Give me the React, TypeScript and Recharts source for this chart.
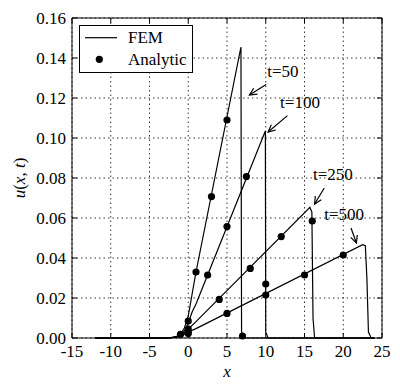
import React from 'react';
import {
  ComposedChart,
  Line,
  Scatter,
  XAxis,
  YAxis,
  CartesianGrid,
  Legend,
  ReferenceLine,
  ReferenceDot,
} from 'recharts';

type Pt = { x: number; y: number };

const FONT = "'Liberation Serif', serif";

const xTicks = [-15, -10, -5, 0, 5, 10, 15, 20, 25];
const yTicks = [0, 0.02, 0.04, 0.06, 0.08, 0.1, 0.12, 0.14, 0.16];
const X_MIN = -15;
const X_MAX = 25;
const Y_MIN = 0;
const Y_MAX = 0.16;

// FEM solutions
const fem50: Pt[] = [
  { x: -12, y: 0 }, { x: -2.5, y: 0 }, { x: -1.5, y: 0.0008 }, { x: -1, y: 0.002 },
  { x: -0.5, y: 0.005 }, { x: 0, y: 0.011 }, { x: 0.5, y: 0.022 }, { x: 1, y: 0.033 },
  { x: 6.8, y: 0.1455 }, { x: 6.88, y: 0.003 }, { x: 7.2, y: 0 }, { x: 24, y: 0 },
];
const fem100: Pt[] = [
  { x: -12, y: 0 }, { x: -2.5, y: 0 }, { x: -1.5, y: 0.0006 }, { x: -1, y: 0.0014 },
  { x: -0.5, y: 0.0035 }, { x: 0, y: 0.0075 }, { x: 0.5, y: 0.013 }, { x: 1, y: 0.017 },
  { x: 9.95, y: 0.1035 }, { x: 10.0, y: 0.003 }, { x: 10.3, y: 0 }, { x: 24, y: 0 },
];
const fem250: Pt[] = [
  { x: -12, y: 0 }, { x: -2.5, y: 0 }, { x: -1.5, y: 0.0005 }, { x: -1, y: 0.0012 },
  { x: -0.5, y: 0.0025 }, { x: 0, y: 0.0045 }, { x: 1, y: 0.0082 },
  { x: 15.7, y: 0.0653 }, { x: 15.95, y: 0.063 }, { x: 16.1, y: 0.01 }, { x: 16.3, y: 0 }, { x: 24, y: 0 },
];
const fem500: Pt[] = [
  { x: -12, y: 0 }, { x: -2.5, y: 0 }, { x: -1.5, y: 0.0004 }, { x: -1, y: 0.001 },
  { x: -0.5, y: 0.0018 }, { x: 0, y: 0.003 }, { x: 1, y: 0.0047 },
  { x: 22.5, y: 0.0467 }, { x: 22.85, y: 0.0462 }, { x: 23.05, y: 0.03 }, { x: 23.25, y: 0.003 },
  { x: 23.6, y: 0 }, { x: 24, y: 0 },
];

// Analytic solutions
const exact50: Pt[] = [
  { x: -1, y: 0.0018 }, { x: 0, y: 0.0085 }, { x: 1, y: 0.033 },
  { x: 3, y: 0.0707 }, { x: 5, y: 0.109 }, { x: 7, y: 0.001 },
];
const exact100: Pt[] = [
  { x: 0, y: 0.0045 }, { x: 2.5, y: 0.0315 }, { x: 5, y: 0.0557 },
  { x: 7.5, y: 0.0807 }, { x: 10, y: 0.027 },
];
const exact250: Pt[] = [
  { x: 0, y: 0.003 }, { x: 4, y: 0.0193 }, { x: 8, y: 0.0348 },
  { x: 12, y: 0.0507 }, { x: 16, y: 0.0585 },
];
const exact500: Pt[] = [
  { x: 0, y: 0.0022 }, { x: 5, y: 0.0123 }, { x: 10, y: 0.0215 },
  { x: 15, y: 0.0315 }, { x: 20, y: 0.0415 },
];

const femSeries = [fem50, fem100, fem250, fem500];
const exactSeries = [exact50, exact100, exact250, exact500];

// annotations: text anchor and arrow (data coordinates)
const notes = [
  { text: 't=50', tx: 10.2, ty: 0.1305, x1: 10.05, y1: 0.1268, x2: 7.9, y2: 0.1215 },
  { text: 't=100', tx: 11.85, ty: 0.115, x1: 12.8, y1: 0.1112, x2: 10.3, y2: 0.103 },
  { text: 't=250', tx: 16.1, ty: 0.079, x1: 17.55, y1: 0.075, x2: 16.3, y2: 0.067 },
  { text: 't=500', tx: 17.55, ty: 0.059, x1: 21.0, y1: 0.055, x2: 21.7, y2: 0.0475 },
];

const TICK_LEN = 5;
const textStyle = { fontFamily: FONT, fontSize: 17 };

const Arrow = (p: any) => {
  const { x1, y1, x2, y2 } = p;
  const ang = Math.atan2(y2 - y1, x2 - x1);
  const len = 8;
  const spread = 0.45;
  const ax = x2 - len * Math.cos(ang - spread);
  const ay = y2 - len * Math.sin(ang - spread);
  const bx = x2 - len * Math.cos(ang + spread);
  const by = y2 - len * Math.sin(ang + spread);
  return (
    <g stroke="#000" strokeWidth={1.2} fill="none">
      <line x1={x1} y1={y1} x2={x2} y2={y2} />
      <polyline points={`${ax},${ay} ${x2},${y2} ${bx},${by}`} />
    </g>
  );
};

const Dot = (p: any) => <circle cx={p.cx} cy={p.cy} r={3.6} fill="#000" />;

// bottom axis: label + inward ticks at bottom and top of the axes box
const BottomTick = (p: any) => {
  const top = p.y - 7 - p.plotHeight;
  return (
    <g>
      <line x1={p.x} y1={p.y - 7} x2={p.x} y2={p.y - 7 - TICK_LEN} stroke="#000" />
      <line x1={p.x} y1={top} x2={p.x} y2={top + TICK_LEN} stroke="#000" />
      <text x={p.x} y={p.y + 12} textAnchor="middle" style={textStyle} fill="#000">
        {p.payload.value}
      </text>
    </g>
  );
};

// left axis: label + inward ticks at left and right of the axes box
const LeftTick = (p: any) => {
  const right = p.x + 6 + p.plotWidth;
  return (
    <g>
      <line x1={p.x + 6} y1={p.y} x2={p.x + 6 + TICK_LEN} y2={p.y} stroke="#000" />
      <line x1={right - TICK_LEN} y1={p.y} x2={right} y2={p.y} stroke="#000" />
      <text x={p.x} y={p.y + 6} textAnchor="end" style={textStyle} fill="#000">
        {Number(p.payload.value).toFixed(2)}
      </text>
    </g>
  );
};

const renderLegend = () => (
  <svg width={114} height={48} style={{ display: 'block' }}>
    <rect x={0.5} y={0.5} width={113} height={47} fill="#fff" stroke="#000" strokeWidth={1} />
    <line x1={6} y1={12.7} x2={38} y2={12.7} stroke="#000" strokeWidth={1.2} />
    <text x={49} y={17.5} style={textStyle}>FEM</text>
    <circle cx={20.3} cy={34.3} r={3.6} fill="#000" />
    <text x={49} y={40} style={textStyle}>Analytic</text>
  </svg>
);

const CHART_W = 400;
const CHART_H = 391;
const MARGIN = { top: 18, right: 18, left: 10, bottom: 8 };
const X_AXIS_H = 45;
const Y_AXIS_W = 62;
const PLOT_W = CHART_W - MARGIN.left - MARGIN.right - Y_AXIS_W;
const PLOT_H = CHART_H - MARGIN.top - MARGIN.bottom - X_AXIS_H;

export default function App() {
  return (
    <div style={{ position: 'absolute', left: 0, top: 0, width: CHART_W, height: CHART_H, background: '#fff' }}>
      <ComposedChart width={CHART_W} height={CHART_H} margin={MARGIN}>
        <CartesianGrid
          xAxisId="b"
          yAxisId="l"
          stroke="#000"
          strokeWidth={0.8}
          strokeDasharray="1.5 3"
        />
        <XAxis
          xAxisId="b"
          dataKey="x"
          type="number"
          domain={[X_MIN, X_MAX]}
          ticks={xTicks}
          interval={0}
          height={X_AXIS_H}
          tickSize={0}
          tickMargin={7}
          tickLine={false}
          tick={(p: any) => <BottomTick {...p} plotHeight={PLOT_H} />}
          stroke="#000"
          label={{
            content: (props: any) => {
              const vb = props.viewBox;
              return (
                <g>
                  {/* top edge of the axes box */}
                  <line
                    x1={vb.x}
                    y1={vb.y - PLOT_H}
                    x2={vb.x + vb.width}
                    y2={vb.y - PLOT_H}
                    stroke="#000"
                    strokeWidth={1}
                  />
                  <text
                    x={vb.x + vb.width / 2}
                    y={vb.y + 39}
                    textAnchor="middle"
                    style={{ ...textStyle, fontStyle: 'italic' }}
                  >
                    x
                  </text>
                </g>
              );
            },
          }}
        />
        <YAxis
          yAxisId="l"
          type="number"
          domain={[Y_MIN, Y_MAX]}
          ticks={yTicks}
          interval={0}
          width={Y_AXIS_W}
          tickSize={0}
          tickMargin={6}
          tickLine={false}
          tick={(p: any) => <LeftTick {...p} plotWidth={PLOT_W} />}
          stroke="#000"
          label={{
            content: (props: any) => {
              const vb = props.viewBox;
              const cx = 25;
              const cy = vb.y + vb.height / 2;
              const right = vb.x + vb.width + PLOT_W;
              return (
                <g>
                  {/* right edge of the axes box */}
                  <line
                    x1={right}
                    y1={vb.y}
                    x2={right}
                    y2={vb.y + vb.height}
                    stroke="#000"
                    strokeWidth={1}
                  />
                  <text
                    x={cx}
                    y={cy}
                    transform={`rotate(-90, ${cx}, ${cy})`}
                    textAnchor="middle"
                    style={textStyle}
                  >
                    <tspan fontStyle="italic">u</tspan>(<tspan fontStyle="italic">x</tspan>,{' '}
                    <tspan fontStyle="italic">t</tspan>)
                  </text>
                </g>
              );
            },
          }}
        />
        {femSeries.map((s, i) => (
          <Line
            key={`fem-${i}`}
            xAxisId="b"
            yAxisId="l"
            data={s}
            dataKey="y"
            type="linear"
            stroke="#000"
            strokeWidth={1.2}
            dot={false}
            activeDot={false}
            isAnimationActive={false}
          />
        ))}
        {exactSeries.map((s, i) => (
          <Scatter
            key={`exact-${i}`}
            xAxisId="b"
            yAxisId="l"
            data={s}
            dataKey="y"
            fill="#000"
            shape={Dot}
            isAnimationActive={false}
          />
        ))}
        {notes.map((n) => (
          <ReferenceLine
            key={`arrow-${n.text}`}
            xAxisId="b"
            yAxisId="l"
            segment={[
              { x: n.x1, y: n.y1 },
              { x: n.x2, y: n.y2 },
            ]}
            shape={Arrow}
          />
        ))}
        {notes.map((n) => (
          <ReferenceDot
            key={`note-${n.text}`}
            xAxisId="b"
            yAxisId="l"
            x={n.tx}
            y={n.ty}
            shape={(p: any) => (
              <text x={p.cx} y={p.cy} style={textStyle} fill="#000">
                {n.text}
              </text>
            )}
          />
        ))}
        <Legend
          layout="vertical"
          align="center"
          verticalAlign="middle"
          content={renderLegend}
          wrapperStyle={{ left: 79, top: 25, width: 114, height: 48 }}
        />
      </ComposedChart>
    </div>
  );
}
